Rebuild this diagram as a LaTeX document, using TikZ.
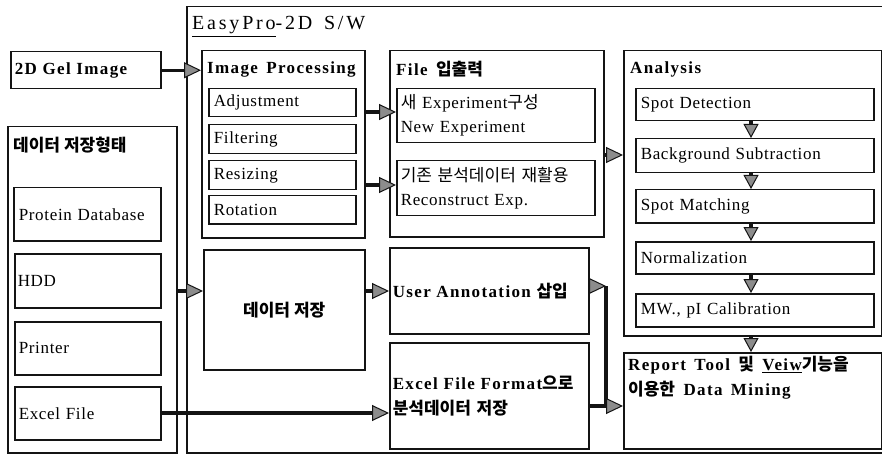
\documentclass[tikz,border=0pt]{standalone}
\usepackage{fontspec}
\setmainfont{Liberation Serif}[WordSpace=1.5,LetterSpace=4,BoldFeatures={LetterSpace=8}]
\newfontfamily\kr{Noto Sans CJK KR}
\usetikzlibrary{arrows.meta}
\newcommand{\K}[1]{{\kr #1}}
\definecolor{ln}{gray}{0.08}
\definecolor{hd}{gray}{0.55}
\begin{document}
\begin{tikzpicture}[x=1pt,y=-1pt,
  frame/.style={draw=ln, line width=1.5pt, inner sep=0pt, anchor=north west},
  sub/.style={frame, align=left, inner xsep=5pt, font=\fontsize{17}{24}\selectfont},
  hdr/.style={anchor=west, inner sep=0pt, font=\fontsize{17}{24}\selectfont\bfseries},
  bold/.style={font=\fontsize{17}{25}\selectfont\bfseries},
  lnk/.style={draw=ln, line width=3.2pt},
  arr/.style={lnk, -{Triangle[length=17pt,width=16pt,line width=1pt,fill=hd]}},
  darr/.style={lnk, -{Triangle[length=14pt,width=15pt,line width=1pt,fill=hd]}}
]
\useasboundingbox (0,0) rectangle (882,454);
\clip (0,0) rectangle (882,454);
\fill[white] (0,0) rectangle (882,454);

% outer software frame
\node[frame, minimum width=704, minimum height=446] (sw) at (186,6) {};
\node[anchor=base west, inner sep=0pt, font=\fontsize{20}{24}\selectfont\addfontfeature{LetterSpace=14}] (title) at (192,30) {\underline{EasyPro}-2D S/W};

% left column
\node[sub, bold, minimum width=150, minimum height=37, text width=142, inner xsep=4pt] (gel) at (10,51) {2D Gel Image};
\node[frame, minimum width=169, minimum height=326] (store) at (7,126) {};
\node[hdr] (storeh) at (13,145) {\K{데이터 저장형태}};
\node[sub, minimum width=145, minimum height=53, text width=137, inner xsep=5pt] (prot) at (13,187) {Protein Database};
\node[sub, minimum width=144, minimum height=54, text width=140, inner xsep=3pt] (hdd) at (14,253) {HDD};
\node[sub, minimum width=144, minimum height=53, text width=138, inner xsep=4pt] (prn) at (14,321) {Printer};
\node[sub, minimum width=144, minimum height=53, text width=138, inner xsep=4pt] (xf) at (14,386) {Excel File};

% image processing
\node[frame, minimum width=163, minimum height=187] (ip) at (201,50) {};
\node[hdr] (iph) at (207,69) {Image Processing};
\node[sub, minimum width=147, minimum height=28, text width=137] (adj) at (208,88) {Adjustment};
\node[sub, minimum width=147, minimum height=29, text width=137] (fil) at (208,124) {Filtering};
\node[sub, minimum width=147, minimum height=29, text width=137] (res) at (208,160) {Resizing};
\node[sub, minimum width=147, minimum height=28, text width=137] (rot) at (208,195) {Rotation};

% file io
\node[frame, minimum width=214, minimum height=186] (file) at (389,50) {};
\node[hdr] (fileh) at (396,69) {File \K{입출력}};
\node[sub, minimum width=198, minimum height=54, text width=190, inner xsep=4pt] (new) at (396,88) {\K{새} Experiment\K{구성}\\New Experiment};
\node[sub, minimum width=198, minimum height=55, text width=190, inner xsep=4pt] (rec) at (396,160) {\K{기존 분석데이터 재활용}\\Reconstruct Exp.};

% analysis
\node[frame, minimum width=258, minimum height=285] (ana) at (623,50) {};
\node[hdr] (anah) at (630,69) {Analysis};
\node[sub, minimum width=238, minimum height=32, text width=228] (sd) at (635,88) {Spot Detection};
\node[sub, minimum width=238, minimum height=34, text width=228] (bs) at (635,138) {Background Subtraction};
\node[sub, minimum width=238, minimum height=33, text width=228] (sm) at (635,189) {Spot Matching};
\node[sub, minimum width=238, minimum height=32, text width=228] (nm) at (635,241) {Normalization};
\node[sub, minimum width=238, minimum height=33, text width=228] (mw) at (635,293) {MW., pI Calibration};

% report
\node[frame, minimum width=258, minimum height=96] (rep) at (623,352) {};
\node[anchor=north west, inner sep=0pt, align=left, bold] (reph) at (628,356) {Report Tool \K{및} \underline{Veiw}\K{기능을}\\\K{이용한} Data Mining};

% middle lower boxes
\node[frame, minimum width=161, minimum height=120, bold] (dsave) at (203,249) {\K{데이터 저장}};
\node[sub, bold, minimum width=199, minimum height=86, text width=193, inner xsep=3pt] (ua) at (389,247) {User Annotation \K{삽입}};
\node[sub, bold, minimum width=199, minimum height=106, text width=193, inner xsep=3pt] (xfmt) at (389,342) {Excel File Format\K{으로}\\\K{분석데이터 저장}};

% connectors
\draw[arr] (gel.east) -- (gel.east -| ip.west);
\draw[arr] (ip.east |- 0,112) -- (new.west |- 0,112);
\draw[arr] (ip.east |- 0,185) -- (rec.west |- 0,185);
\draw[arr] (file.east |- 0,155) -- (ana.west |- 0,155);
\draw[darr] (sd.south -| 751,0) -- (bs.north -| 751,0);
\draw[darr] (bs.south -| 751,0) -- (sm.north -| 751,0);
\draw[darr] (sm.south -| 751,0) -- (nm.north -| 751,0);
\draw[darr] (nm.south -| 751,0) -- (mw.north -| 751,0);
\draw[darr] (ana.south -| 751,0) -- (rep.north -| 751,0);
\draw[arr] (store.east |- 0,291) -- (dsave.west |- 0,291);
\draw[arr] (dsave.east |- 0,291) -- (ua.west |- 0,291);
\draw[arr] (xf.east |- 0,413) -- (xfmt.west |- 0,413);
\coordinate (c1) at (606,286);
\coordinate (c2) at (606,406);
\draw[arr] (ua.east |- c1) -- (c1);
\draw[lnk] (c1) -- (c2);
\draw[arr] (xfmt.east |- c2) -- (rep.west |- c2);
\end{tikzpicture}
\end{document}
